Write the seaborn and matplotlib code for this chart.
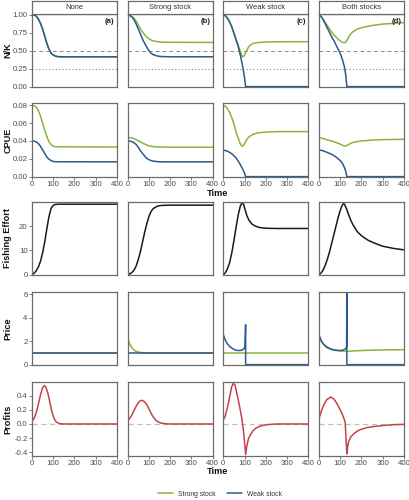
import matplotlib
matplotlib.use("Agg")
import matplotlib.pyplot as plt
import pandas as pd
import seaborn as sns
from matplotlib.lines import Line2D

# ---------------- data ----------------
scenarios = ["None", "Strong stock", "Weak stock", "Both stocks"]
panel_tags = ["(a)", "(b)", "(c)", "(d)"]
stock_names = ["Strong stock", "Weak stock"]
row_titles = ["N/K", "CPUE", "Fishing Effort", "Price", "Profits"]
x_ticks = [0, 100, 200, 300, 400]
nk_ticks = [0.0, 0.25, 0.5, 0.75, 1.0]
cpue_ticks = [0.0, 0.02, 0.04, 0.06, 0.08]
effort_ticks = [0, 10, 20]
price_ticks = [0, 2, 4, 6]
profit_ticks = [-0.4, -0.2, 0.0, 0.2, 0.4]
nk_half_line = 0.5
nk_quarter_line = 0.25
profit_zero_line = 0.0

# N/K
nk_a_t = [0, 10, 20, 30, 40, 50, 60, 70, 80, 90, 100, 110, 120, 140, 400]
nk_a_strong = [1.0, 0.995, 0.98, 0.94, 0.88, 0.80, 0.70, 0.60, 0.52, 0.465, 0.44, 0.425, 0.418, 0.415, 0.415]
nk_a_weak = [1.0, 0.995, 0.98, 0.94, 0.88, 0.80, 0.70, 0.60, 0.52, 0.465, 0.44, 0.425, 0.418, 0.415, 0.415]
nk_b_t = [0, 10, 20, 30, 40, 50, 60, 70, 80, 90, 100, 110, 120, 140, 160, 200, 400]
nk_b_strong = [1.0, 0.99, 0.975, 0.95, 0.91, 0.86, 0.80, 0.76, 0.72, 0.69, 0.665, 0.648, 0.637, 0.625, 0.619, 0.616, 0.615]
nk_b_weak = [1.0, 0.99, 0.97, 0.93, 0.87, 0.80, 0.73, 0.66, 0.60, 0.55, 0.50, 0.465, 0.445, 0.425, 0.418, 0.415, 0.415]
nk_c_strong_t = [0, 10, 20, 30, 40, 50, 60, 70, 80, 86, 91, 96, 102, 110, 120, 130, 140, 160, 200, 250, 400]
nk_c_strong = [1.0, 0.985, 0.95, 0.90, 0.83, 0.75, 0.66, 0.575, 0.49, 0.44, 0.415, 0.42, 0.45, 0.505, 0.555, 0.585, 0.60, 0.612, 0.62, 0.624, 0.625]
nk_c_weak_t = [0, 10, 20, 30, 40, 50, 60, 70, 80, 90, 100, 105, 400]
nk_c_weak = [1.0, 0.985, 0.95, 0.90, 0.83, 0.74, 0.65, 0.56, 0.44, 0.30, 0.12, 0.0, 0.0]
nk_d_strong_t = [0, 10, 20, 30, 40, 50, 60, 70, 80, 90, 100, 110, 118, 125, 132, 140, 150, 160, 180, 200, 250, 300, 350, 400]
nk_d_strong = [1.0, 0.975, 0.935, 0.89, 0.845, 0.80, 0.76, 0.72, 0.69, 0.66, 0.635, 0.617, 0.61, 0.615, 0.645, 0.69, 0.735, 0.765, 0.80, 0.82, 0.85, 0.87, 0.88, 0.89]
nk_d_weak_t = [0, 10, 20, 30, 40, 50, 60, 70, 80, 90, 100, 110, 120, 126, 131, 400]
nk_d_weak = [1.0, 0.975, 0.93, 0.87, 0.81, 0.75, 0.69, 0.64, 0.58, 0.52, 0.46, 0.38, 0.27, 0.16, 0.0, 0.0]

# CPUE
cpue_a_t = [0, 10, 20, 30, 40, 50, 60, 70, 80, 90, 100, 110, 400]
cpue_a_strong = [0.080, 0.0795, 0.078, 0.074, 0.068, 0.060, 0.052, 0.045, 0.039, 0.036, 0.034, 0.0335, 0.0332]
cpue_a_weak = [0.040, 0.0398, 0.039, 0.037, 0.034, 0.030, 0.026, 0.022, 0.0195, 0.018, 0.017, 0.0167, 0.0166]
cpue_b_strong_t = [0, 20, 40, 60, 80, 100, 120, 140, 200, 400]
cpue_b_strong = [0.044, 0.0435, 0.0415, 0.039, 0.0365, 0.0345, 0.0337, 0.0333, 0.033, 0.033]
cpue_b_weak_t = [0, 10, 20, 30, 40, 50, 60, 70, 80, 90, 100, 110, 120, 140, 160, 400]
cpue_b_weak = [0.040, 0.0398, 0.0392, 0.038, 0.036, 0.0328, 0.029, 0.026, 0.023, 0.0205, 0.019, 0.018, 0.0174, 0.0168, 0.0166, 0.0166]
cpue_c_strong_t = [0, 10, 20, 30, 40, 50, 60, 70, 80, 88, 95, 103, 110, 120, 140, 160, 200, 250, 400]
cpue_c_strong = [0.080, 0.079, 0.076, 0.072, 0.066, 0.059, 0.050, 0.043, 0.037, 0.034, 0.035, 0.038, 0.0415, 0.0445, 0.0475, 0.049, 0.050, 0.0505, 0.0505]
cpue_c_weak_t = [0, 20, 40, 60, 70, 80, 90, 100, 105, 400]
cpue_c_weak = [0.030, 0.0285, 0.0257, 0.021, 0.0175, 0.0135, 0.009, 0.004, 0.0, 0.0]
cpue_d_strong_t = [0, 20, 40, 60, 80, 100, 110, 120, 130, 140, 160, 200, 250, 300, 400]
cpue_d_strong = [0.044, 0.0428, 0.0412, 0.0398, 0.0383, 0.0365, 0.0352, 0.0343, 0.0348, 0.0362, 0.0385, 0.040, 0.041, 0.0415, 0.0419]
cpue_d_weak_t = [0, 20, 40, 60, 80, 100, 110, 120, 126, 131, 400]
cpue_d_weak = [0.030, 0.029, 0.027, 0.025, 0.022, 0.018, 0.015, 0.010, 0.006, 0.0, 0.0]

# Fishing effort
effort_a_t = [0, 10, 20, 30, 40, 50, 60, 70, 80, 90, 100, 110, 130, 400]
effort_a = [0, 0.6, 1.6, 3.2, 5.5, 9.0, 13.5, 19.0, 24.0, 27.3, 28.5, 28.9, 29.0, 29.0]
effort_b_t = [0, 10, 20, 30, 40, 50, 60, 70, 80, 90, 100, 110, 120, 140, 160, 200, 400]
effort_b = [0, 0.3, 0.9, 1.9, 3.6, 6.3, 9.5, 13.5, 17.5, 21.0, 24.0, 26.0, 27.2, 28.2, 28.5, 28.6, 28.6]
effort_c_t = [0, 10, 20, 30, 40, 50, 60, 70, 80, 88, 95, 100, 110, 120, 135, 150, 170, 200, 250, 400]
effort_c = [0, 0.8, 2.5, 5.0, 9.0, 14.0, 19.5, 24.5, 28.2, 29.6, 29.0, 27.5, 24.5, 22.5, 20.8, 20.0, 19.4, 19.1, 19.0, 19.0]
effort_d_t = [0, 10, 20, 30, 40, 50, 60, 70, 80, 90, 100, 110, 115, 120, 130, 140, 150, 160, 180, 200, 230, 260, 300, 350, 400]
effort_d = [0, 0.7, 2.0, 4.0, 6.5, 9.5, 13.0, 16.5, 20.0, 23.5, 26.5, 28.7, 29.2, 29.0, 27.0, 24.5, 22.3, 20.5, 17.7, 16.0, 14.2, 13.0, 11.7, 10.8, 10.2]

# Price
price_a_t = [0, 400]
price_a_strong = [1.0, 1.0]
price_a_weak = [1.0, 1.0]
price_b_strong_t = [0, 5, 10, 20, 30, 40, 50, 60, 80, 100, 400]
price_b_strong = [2.25, 1.95, 1.72, 1.42, 1.24, 1.13, 1.07, 1.04, 1.01, 1.0, 1.0]
price_b_weak_t = [0, 400]
price_b_weak = [1.0, 1.0]
price_c_strong_t = [0, 400]
price_c_strong = [1.0, 1.0]
price_c_weak_t = [0, 10, 20, 30, 40, 50, 60, 70, 80, 90, 97, 102, 105, 105, 400]
price_c_weak = [2.54, 2.05, 1.75, 1.55, 1.41, 1.30, 1.23, 1.20, 1.20, 1.25, 1.35, 1.55, 3.38, 0.0, 0.0]
price_d_strong_t = [0, 10, 20, 30, 40, 60, 80, 100, 120, 131, 150, 200, 300, 400]
price_d_strong = [2.45, 2.0, 1.75, 1.55, 1.42, 1.27, 1.2, 1.16, 1.14, 1.12, 1.15, 1.2, 1.25, 1.27]
price_d_weak_t = [0, 10, 20, 30, 40, 60, 80, 100, 115, 125, 130, 131, 131, 400]
price_d_weak = [2.54, 2.05, 1.78, 1.60, 1.46, 1.30, 1.23, 1.20, 1.24, 1.35, 1.50, 8.0, 0.0, 0.0]

# Profits
profit_a_t = [0, 10, 20, 30, 40, 50, 58, 65, 75, 85, 95, 105, 115, 130, 150, 400]
profit_a = [0.04, 0.08, 0.16, 0.28, 0.41, 0.51, 0.54, 0.52, 0.43, 0.29, 0.16, 0.07, 0.025, 0.005, 0.0, 0.0]
profit_b_t = [0, 10, 20, 30, 40, 50, 60, 70, 80, 90, 100, 110, 120, 130, 140, 150, 160, 180, 200, 400]
profit_b = [0.05, 0.08, 0.13, 0.19, 0.25, 0.30, 0.33, 0.33, 0.31, 0.27, 0.21, 0.15, 0.10, 0.06, 0.035, 0.02, 0.01, 0.003, 0.0, 0.0]
profit_c_t = [0, 8, 24, 39, 47, 55, 71, 86, 94, 102, 105, 110, 118, 130, 141, 155, 173, 204, 250, 400]
profit_c = [0.06, 0.10, 0.29, 0.52, 0.57, 0.55, 0.33, 0.10, -0.07, -0.32, -0.43, -0.32, -0.21, -0.14, -0.09, -0.055, -0.03, -0.01, 0.0, 0.0]
profit_d_t = [0, 10, 21, 36, 55, 70, 84, 96, 108, 118, 123, 131, 135, 139, 150, 163, 180, 194, 226, 260, 305, 350, 400]
profit_d = [0.075, 0.17, 0.26, 0.34, 0.38, 0.35, 0.29, 0.22, 0.15, 0.07, 0.03, -0.42, -0.32, -0.25, -0.18, -0.14, -0.10, -0.08, -0.05, -0.035, -0.02, -0.01, -0.005]

# ---------------- styling ----------------
sns.set_theme(style="white")
plt.rcParams['font.family'] = ['Liberation Sans', 'DejaVu Sans']
plt.rcParams['axes.unicode_minus'] = False

GREEN = "#8AB43E"
BLUE = "#2B5A8C"
BLACK = "#1a1a1a"
RED = "#C4434A"
BORDER = "#6b6b6b"
TICKTXT = "#4d4d4d"
palette = {"Strong stock": GREEN, "Weak stock": BLUE}

W, H = 410, 500
fig = plt.figure(figsize=(W / 100, H / 100), dpi=100)
col_left = [32, 127.7, 223.3, 319]
col_w = 85
rows_px = [(14, 87), (103, 177), (202, 275), (292, 365), (382, 456)]
ylims = [(-0.005, 1.01), (-0.0004, 0.0826), (-0.15, 29.9), (-0.03, 6.17), (-0.45, 0.59)]
yticks = [nk_ticks, cpue_ticks, effort_ticks, price_ticks, profit_ticks]
ytick_fmt = [lambda v: f"{v:.2f}", lambda v: f"{v:.2f}", lambda v: f"{v:.0f}",
             lambda v: f"{v:.0f}", lambda v: f"{v:.1f}"]


def two_stock_df(ts, tw, vs, vw):
    return pd.concat([
        pd.DataFrame({"Time": ts, "value": vs, "stock": "Strong stock"}),
        pd.DataFrame({"Time": tw, "value": vw, "stock": "Weak stock"}),
    ], ignore_index=True)


nk_frames = [two_stock_df(nk_a_t, nk_a_t, nk_a_strong, nk_a_weak),
             two_stock_df(nk_b_t, nk_b_t, nk_b_strong, nk_b_weak),
             two_stock_df(nk_c_strong_t, nk_c_weak_t, nk_c_strong, nk_c_weak),
             two_stock_df(nk_d_strong_t, nk_d_weak_t, nk_d_strong, nk_d_weak)]
cpue_frames = [two_stock_df(cpue_a_t, cpue_a_t, cpue_a_strong, cpue_a_weak),
               two_stock_df(cpue_b_strong_t, cpue_b_weak_t, cpue_b_strong, cpue_b_weak),
               two_stock_df(cpue_c_strong_t, cpue_c_weak_t, cpue_c_strong, cpue_c_weak),
               two_stock_df(cpue_d_strong_t, cpue_d_weak_t, cpue_d_strong, cpue_d_weak)]
price_frames = [two_stock_df(price_a_t, price_a_t, price_a_strong, price_a_weak),
                two_stock_df(price_b_strong_t, price_b_weak_t, price_b_strong, price_b_weak),
                two_stock_df(price_c_strong_t, price_c_weak_t, price_c_strong, price_c_weak),
                two_stock_df(price_d_strong_t, price_d_weak_t, price_d_strong, price_d_weak)]
effort_frames = [pd.DataFrame({"Time": t, "value": v}) for t, v in
                 [(effort_a_t, effort_a), (effort_b_t, effort_b), (effort_c_t, effort_c), (effort_d_t, effort_d)]]
profit_frames = [pd.DataFrame({"Time": t, "value": v}) for t, v in
                 [(profit_a_t, profit_a), (profit_b_t, profit_b), (profit_c_t, profit_c), (profit_d_t, profit_d)]]

row_frames = [nk_frames, cpue_frames, effort_frames, price_frames, profit_frames]

for r in range(5):
    top, bot = rows_px[r]
    for c in range(4):
        ax = fig.add_axes([col_left[c] / W, 1 - bot / H, col_w / W, (bot - top) / H])
        df = row_frames[r][c]
        if r == 0:
            ax.axhline(nk_half_line, color="#8a8a8a", lw=0.7, ls=(0, (4, 3)), zorder=1)
            ax.axhline(nk_quarter_line, color="#8a8a8a", lw=0.8, ls=(0, (1, 2)), zorder=1)
        if r == 4:
            ax.axhline(profit_zero_line, color="#bdbdbd", lw=0.9, ls=(0, (4, 3)), zorder=1)
        if r in (0, 1, 3):
            sns.lineplot(data=df, x="Time", y="value", hue="stock", palette=palette,
                         hue_order=stock_names, estimator=None, sort=False,
                         legend=False, ax=ax, linewidth=1.1)
        elif r == 2:
            sns.lineplot(data=df, x="Time", y="value", color=BLACK, estimator=None,
                         sort=False, ax=ax, linewidth=1.1)
        else:
            sns.lineplot(data=df, x="Time", y="value", color=RED, estimator=None,
                         sort=False, ax=ax, linewidth=1.1)
        ax.set_xlim(0, 400)
        ax.set_ylim(*ylims[r])
        ax.set_xlabel("")
        ax.set_ylabel("")
        for s in ax.spines.values():
            s.set_color(BORDER)
            s.set_linewidth(0.9)
        ax.set_yticks(yticks[r])
        if c == 0:
            ax.set_yticklabels([ytick_fmt[r](v) for v in yticks[r]])
            ax.tick_params(axis="y", left=True, length=2, width=0.6, color=BORDER,
                           labelsize=5.6, labelcolor=TICKTXT, pad=1.2)
        else:
            ax.tick_params(axis="y", left=False, labelleft=False)
        if r in (1, 4):
            ax.set_xticks(x_ticks)
            ax.set_xticklabels([str(v) for v in x_ticks])
            ax.tick_params(axis="x", bottom=True, length=2, width=0.6, color=BORDER,
                           labelsize=5.6, labelcolor=TICKTXT, pad=1.0)
        else:
            ax.set_xticks([])
        if r == 0:
            ax.text(0.97, 0.95, panel_tags[c], transform=ax.transAxes, ha="right",
                    va="top", fontsize=5.6, fontweight="bold", color="#222222")
            sax = fig.add_axes([col_left[c] / W, 1 - 14 / H, col_w / W, 13 / H])
            sax.set_xticks([])
            sax.set_yticks([])
            sax.set_facecolor("white")
            for s in sax.spines.values():
                s.set_color(BORDER)
                s.set_linewidth(0.9)
            sax.text(0.5, 0.48, scenarios[c], transform=sax.transAxes, ha="center",
                     va="center", fontsize=5.4, color="#333333")
    fig.text(8 / W, 1 - (top + bot) / 2 / H, row_titles[r], rotation=90, ha="center",
             va="center", fontsize=6.6, fontweight="bold", color="#111111")

fig.text(218 / W, 1 - 194 / H, "Time", ha="center", va="center", fontsize=6.6,
         fontweight="bold", color="#111111")
fig.text(218 / W, 1 - 471 / H, "Time", ha="center", va="center", fontsize=6.6,
         fontweight="bold", color="#111111")

handles = [Line2D([0], [0], color=palette[s], lw=1.1) for s in stock_names]
fig.legend(handles, stock_names, loc="center", bbox_to_anchor=(220 / W, 1 - 494 / H),
           ncol=2, frameon=False, fontsize=4.9, handlelength=2.2, columnspacing=1.6,
           handletextpad=0.8, labelcolor="#333333")

fig.savefig("out.png", dpi=100)
